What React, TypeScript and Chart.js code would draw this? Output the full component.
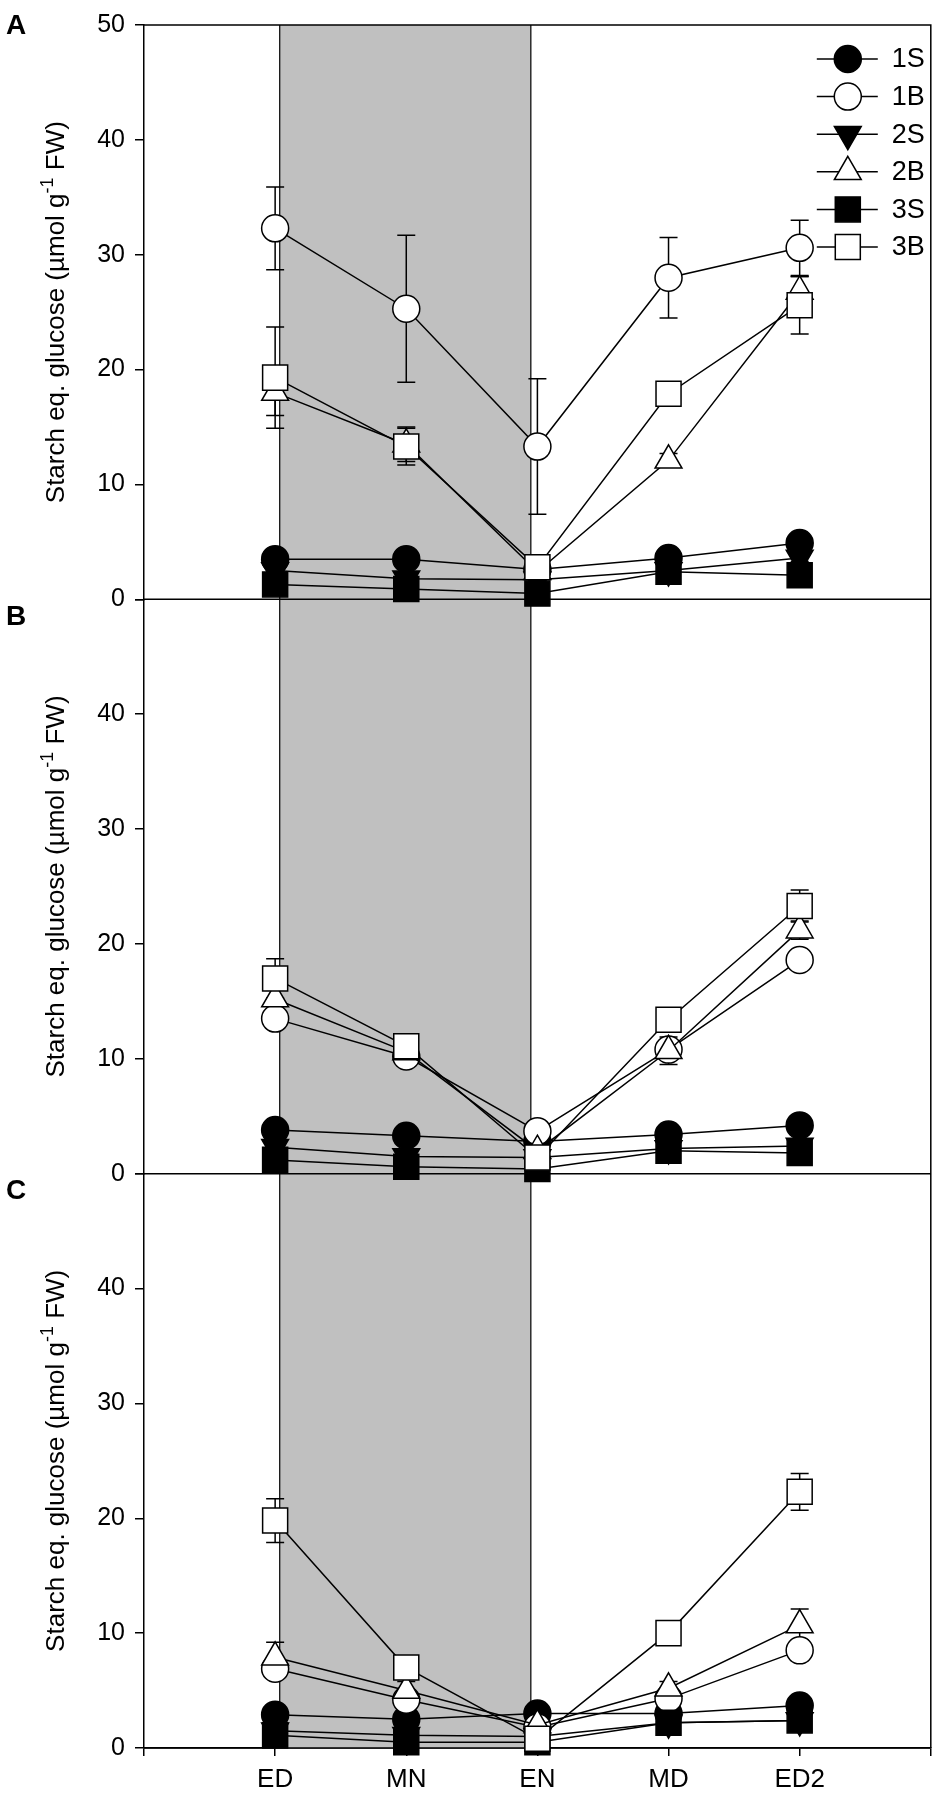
import React, { useEffect, useRef } from 'react';
import { Chart, registerables } from 'chart.js';

Chart.register(...registerables);

const W = 950;
const H = 1798;

// x positions of the sampling times
const categories = ['ED', 'MN', 'EN', 'MD', 'ED2'];
const catX = [1, 2, 3, 4, 5];
const darkStart = 1.035;
const darkEnd = 2.95;

const seriesNames = ['1S', '1B', '2S', '2B', '3S', '3B'];
const panelLetters = ['A', 'B', 'C'];

// panel A
const a1S = [3.5, 3.5, 2.6, 3.6, 4.9];
const a1SErr = [0.3, 0.3, 0.2, 0.3, 0.4];
const a1B = [32.3, 25.3, 13.3, 28.0, 30.6];
const a1BErr = [3.6, 6.4, 5.9, 3.5, 2.4];
const a2S = [2.5, 1.8, 1.7, 2.5, 3.6];
const a2SErr = [0.2, 0.2, 0.2, 0.4, 0.3];
const a2B = [18.0, 13.5, 2.4, 12.1, 26.8];
const a2BErr = [2.0, 1.5, 0.4, 0.6, 1.3];
const a3S = [1.3, 0.9, 0.5, 2.4, 2.1];
const a3SErr = [0.2, 0.2, 0.1, 0.3, 0.2];
const a3B = [19.3, 13.3, 2.8, 17.9, 25.6];
const a3BErr = [4.4, 1.6, 0.5, 0.7, 2.5];

// panel B
const b1S = [3.8, 3.3, 2.8, 3.4, 4.2];
const b1SErr = [0.3, 0.3, 0.2, 0.3, 0.3];
const b1B = [13.5, 10.2, 3.7, 10.8, 18.6];
const b1BErr = [0.5, 0.4, 0.3, 0.8, 0.6];
const b2S = [2.3, 1.5, 1.4, 2.2, 2.4];
const b2SErr = [0.2, 0.2, 0.2, 0.5, 0.3];
const b2B = [15.2, 10.6, 2.0, 10.7, 21.2];
const b2BErr = [0.8, 0.5, 0.3, 1.2, 0.8];
const b3S = [1.2, 0.6, 0.4, 2.0, 1.8];
const b3SErr = [0.2, 0.1, 0.1, 0.3, 0.2];
const b3B = [17.0, 11.1, 1.4, 13.4, 23.3];
const b3BErr = [1.7, 0.4, 0.3, 0.5, 1.4];

// panel C
const c1S = [2.9, 2.5, 3.0, 3.0, 3.7];
const c1SErr = [0.3, 0.2, 0.2, 0.3, 0.3];
const c1B = [6.9, 4.2, 1.8, 4.3, 8.5];
const c1BErr = [0.6, 0.6, 0.3, 0.4, 0.9];
const c2S = [1.5, 1.1, 1.0, 2.2, 2.4];
const c2SErr = [0.2, 0.2, 0.2, 0.4, 0.3];
const c2B = [7.9, 5.0, 2.0, 5.2, 10.7];
const c2BErr = [1.3, 0.8, 0.3, 0.6, 1.4];
const c3S = [1.1, 0.5, 0.5, 2.2, 2.4];
const c3SErr = [0.2, 0.1, 0.1, 0.3, 0.2];
const c3B = [19.8, 7.0, 0.8, 10.0, 22.3];
const c3BErr = [1.9, 0.6, 0.3, 0.6, 1.6];

const panelValues = [
  [a1S, a1B, a2S, a2B, a3S, a3B],
  [b1S, b1B, b2S, b2B, b3S, b3B],
  [c1S, c1B, c2S, c2B, c3S, c3B],
];
const panelErrors = [
  [a1SErr, a1BErr, a2SErr, a2BErr, a3SErr, a3BErr],
  [b1SErr, b1BErr, b2SErr, b2BErr, b3SErr, b3BErr],
  [c1SErr, c1BErr, c2SErr, c2BErr, c3SErr, c3BErr],
];

const panelAxes = ['yA', 'yB', 'yC'];

// marker look of each series
const shapes = ['circle', 'circle', 'triangle', 'triangle', 'rect', 'rect'];
const fills = ['#000', '#fff', '#000', '#fff', '#000', '#fff'];
const rotations = [0, 0, 180, 0, 0, 0];
const radii = [13.5, 13.5, 15.5, 15.5, 17.7, 17.7];

const FONT = '"Liberation Sans", Arial, sans-serif';

function drawMarker(ctx, i, x, y) {
  const r = radii[i];
  ctx.beginPath();
  if (shapes[i] === 'circle') {
    ctx.arc(x, y, r, 0, Math.PI * 2);
  } else if (shapes[i] === 'rect') {
    const s = r * Math.SQRT1_2;
    ctx.rect(x - s, y - s, 2 * s, 2 * s);
  } else {
    let a = (rotations[i] * Math.PI) / 180;
    ctx.moveTo(x + Math.sin(a) * r, y - Math.cos(a) * r);
    a += (2 * Math.PI) / 3;
    ctx.lineTo(x + Math.sin(a) * r, y - Math.cos(a) * r);
    a += (2 * Math.PI) / 3;
    ctx.lineTo(x + Math.sin(a) * r, y - Math.cos(a) * r);
    ctx.closePath();
  }
  ctx.fillStyle = fills[i];
  ctx.fill();
  ctx.lineWidth = 1.5;
  ctx.strokeStyle = '#000';
  ctx.stroke();
}

const decor = {
  id: 'decor',
  beforeDatasetsDraw(chart) {
    const { ctx, chartArea, scales } = chart;
    const xs = scales.x.getPixelForValue(darkStart);
    const xe = scales.x.getPixelForValue(darkEnd);
    ctx.save();
    ctx.fillStyle = '#c0c0c0';
    ctx.fillRect(xs, chartArea.top, xe - xs, chartArea.bottom - chartArea.top);
    ctx.strokeStyle = '#000';
    ctx.lineWidth = 1.2;
    ctx.beginPath();
    ctx.moveTo(xs, chartArea.top);
    ctx.lineTo(xs, chartArea.bottom);
    ctx.moveTo(xe, chartArea.top);
    ctx.lineTo(xe, chartArea.bottom);
    ctx.stroke();

    // frame and panel separators
    ctx.lineWidth = 1.5;
    ctx.beginPath();
    ctx.moveTo(chartArea.left, chartArea.top);
    ctx.lineTo(chartArea.right, chartArea.top);
    ctx.lineTo(chartArea.right, chartArea.bottom);
    panelAxes.forEach((id) => {
      const y0 = scales[id].getPixelForValue(0);
      ctx.moveTo(chartArea.left, y0);
      ctx.lineTo(chartArea.right, y0);
    });
    ctx.stroke();

    // error bars
    ctx.lineWidth = 1.5;
    chart.data.datasets.forEach((ds, di) => {
      const meta = chart.getDatasetMeta(di);
      const ys = scales[ds.yAxisID];
      ds.errors.forEach((e, k) => {
        const pt = meta.data[k];
        const v = ds.data[k].y;
        const top = ys.getPixelForValue(v + e);
        const bot = ys.getPixelForValue(v - e);
        ctx.beginPath();
        ctx.moveTo(pt.x, top);
        ctx.lineTo(pt.x, bot);
        ctx.moveTo(pt.x - 9, top);
        ctx.lineTo(pt.x + 9, top);
        ctx.moveTo(pt.x - 9, bot);
        ctx.lineTo(pt.x + 9, bot);
        ctx.stroke();
      });
    });
    ctx.restore();
  },
  afterDraw(chart) {
    const { ctx, chartArea, scales } = chart;
    ctx.save();
    ctx.fillStyle = '#000';

    panelAxes.forEach((id, p) => {
      const s = scales[id];
      // panel letter
      ctx.font = `bold 28px ${FONT}`;
      ctx.textAlign = 'left';
      ctx.textBaseline = 'middle';
      ctx.fillText(panelLetters[p], 6, p === 0 ? s.top + 1 : s.top + 18);

      // axis title with superscript
      const big = `26px ${FONT}`;
      const small = `18px ${FONT}`;
      const t1 = 'Starch eq. glucose (\u00b5mol g';
      const t2 = '-1';
      const t3 = ' FW)';
      ctx.font = big;
      const w1 = ctx.measureText(t1).width;
      const w3 = ctx.measureText(t3).width;
      ctx.font = small;
      const w2 = ctx.measureText(t2).width;
      const total = w1 + w2 + w3;
      ctx.save();
      ctx.translate(64, (s.top + s.bottom) / 2);
      ctx.rotate(-Math.PI / 2);
      ctx.textBaseline = 'alphabetic';
      ctx.textAlign = 'left';
      let x = -total / 2;
      ctx.font = big;
      ctx.fillText(t1, x, 0);
      x += w1;
      ctx.font = small;
      ctx.fillText(t2, x, -11);
      x += w2;
      ctx.font = big;
      ctx.fillText(t3, x, 0);
      ctx.restore();
    });

    // legend (panel A, top right)
    const lx = chartArea.right - 114;
    const ly = chartArea.top + 34;
    ctx.font = `27px ${FONT}`;
    ctx.textAlign = 'left';
    ctx.textBaseline = 'middle';
    seriesNames.forEach((name, i) => {
      const y = ly + i * 37.6;
      ctx.strokeStyle = '#000';
      ctx.lineWidth = 1.5;
      ctx.beginPath();
      ctx.moveTo(lx, y);
      ctx.lineTo(lx + 61, y);
      ctx.stroke();
      drawMarker(ctx, i, lx + 31, y);
      ctx.fillStyle = '#000';
      ctx.fillText(name, lx + 75, y + 1);
    });
    ctx.restore();
  },
};

export default function App() {
  const canvasRef = useRef(null);

  useEffect(() => {
    document.body.style.margin = '0';
    const datasets = [];
    panelValues.forEach((series, p) => {
      series.forEach((vals, i) => {
        datasets.push({
          label: `${panelLetters[p]} ${seriesNames[i]}`,
          data: vals.map((v, k) => ({ x: catX[k], y: v })),
          errors: panelErrors[p][i],
          yAxisID: panelAxes[p],
          order: seriesNames.length - 1 - i,
          borderColor: '#000',
          borderWidth: 1.5,
          tension: 0,
          fill: false,
          clip: false,
          pointStyle: shapes[i],
          pointRotation: rotations[i],
          pointRadius: radii[i],
          pointBackgroundColor: fills[i],
          pointBorderColor: '#000',
          pointBorderWidth: 1.5,
        });
      });
    });

    const yScale = (weight, showTop) => ({
      type: 'linear',
      position: 'left',
      stack: 'panels',
      stackWeight: 1,
      weight,
      min: 0,
      max: 50,
      afterFit: (s) => {
        s.width = 144;
      },
      ticks: {
        stepSize: 10,
        autoSkip: false,
        color: '#000',
        padding: 10,
        font: { family: FONT, size: 25 },
        callback: (v) => (v === 50 && !showTop ? '' : String(v)),
      },
      grid: { drawOnChartArea: false, drawTicks: true, tickLength: 9, color: '#000', lineWidth: 1.5 },
      border: { display: true, color: '#000', width: 1.5 },
    });

    const chart = new Chart(canvasRef.current, {
      type: 'line',
      data: { datasets },
      options: {
        animation: false,
        responsive: false,
        devicePixelRatio: 1,
        layout: { padding: { top: 15, right: 4, left: 0, bottom: 0 } },
        plugins: { legend: { display: false }, tooltip: { enabled: false } },
        scales: {
          x: {
            type: 'linear',
            min: 0,
            max: 6,
            afterFit: (s) => {
              s.height = 50;
            },
            ticks: {
              stepSize: 1,
              autoSkip: false,
              color: '#000',
              padding: 8,
              maxRotation: 0,
              font: { family: FONT, size: 26 },
              callback: (v) => {
                const k = catX.indexOf(v);
                return k >= 0 ? categories[k] : '';
              },
            },
            grid: { drawOnChartArea: false, drawTicks: true, tickLength: 8, color: '#000', lineWidth: 1.5 },
            border: { display: true, color: '#000', width: 1.5 },
          },
          yA: yScale(3, true),
          yB: yScale(2, false),
          yC: yScale(1, false),
        },
      },
      plugins: [decor],
    });
    return () => chart.destroy();
  }, []);

  return (
    <div style={{ width: W, height: H, background: '#fff' }}>
      <canvas ref={canvasRef} width={W} height={H} style={{ display: 'block' }} />
    </div>
  );
}
